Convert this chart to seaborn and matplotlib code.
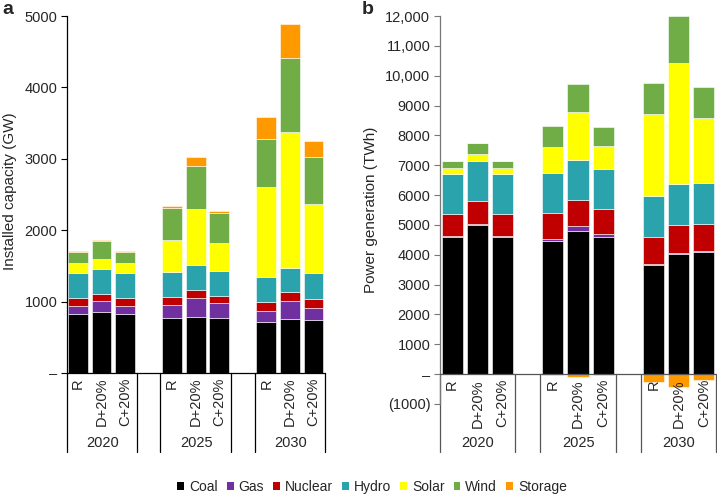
import numpy as np
import pandas as pd
import matplotlib.pyplot as plt
import seaborn as sns
from matplotlib.patches import Patch
from matplotlib.ticker import FuncFormatter, MultipleLocator

sns.set_style('white')
plt.rcParams['font.family'] = ['Liberation Sans', 'DejaVu Sans']

# ---- data ----
sources = ['Coal', 'Gas', 'Nuclear', 'Hydro', 'Solar', 'Wind', 'Storage']
colors = ['#000000', '#7030A0', '#C00000', '#2AA3AD', '#FFFF00', '#70AD47', '#FF9900']
years = ['2020', '2025', '2030']
scenarios = ['R', 'D+20%', 'C+20%']

# installed capacity (GW), one list per source, bars ordered 2020 R/D/C, 2025 R/D/C, 2030 R/D/C
cap_coal = [826, 854, 826, 770, 780, 770, 712, 756, 742]
cap_gas = [112, 154, 112, 182, 270, 210, 158, 252, 168]
cap_nuclear = [112, 98, 112, 112, 110, 100, 124, 126, 126]
cap_hydro = [350, 350, 350, 350, 352, 350, 350, 336, 364]
cap_solar = [140, 140, 140, 448, 785, 390, 1261, 1905, 967]
cap_wind = [155, 249, 155, 448, 603, 420, 672, 1037, 658]
cap_storage = [10, 17, 10, 30, 125, 25, 308, 476, 225]

# power generation (TWh)
gen_coal = [4590, 4990, 4590, 4460, 4800, 4600, 3660, 4020, 4090]
gen_gas = [40, 40, 40, 70, 170, 80, 20, 40, 30]
gen_nuclear = [730, 770, 730, 860, 850, 850, 920, 940, 920]
gen_hydro = [1340, 1330, 1340, 1350, 1350, 1340, 1360, 1360, 1370]
gen_solar = [200, 230, 200, 860, 1610, 770, 2740, 4060, 2180]
gen_wind = [230, 380, 230, 700, 930, 630, 1070, 1580, 1030]
gen_storage = [0, 0, 0, -20, -90, -30, -260, -430, -200]

cap = pd.DataFrame(dict(zip(sources, [cap_coal, cap_gas, cap_nuclear, cap_hydro,
                                      cap_solar, cap_wind, cap_storage])))
gen = pd.DataFrame(dict(zip(sources, [gen_coal, gen_gas, gen_nuclear, gen_hydro,
                                      gen_solar, gen_wind, gen_storage])))

positions = [0, 1, 2, 4, 5, 6, 8, 9, 10]
group_spans = [(-0.5, 2.5), (3.5, 6.5), (7.5, 10.5)]

W, H = 717, 495
fig = plt.figure(figsize=(W / 100, H / 100), dpi=100)


def add_axes(l, r, top, bottom):
    return fig.add_axes([l / W, 1 - bottom / H, (r - l) / W, (bottom - top) / H])


def stacked(ax, df):
    pos_bottom = np.zeros(len(df))
    for src, col in zip(sources, colors):
        vals = df[src].values
        bottoms = np.where(vals >= 0, pos_bottom, 0)
        ax.bar(positions, vals, bottom=bottoms, width=0.84, color=col,
               edgecolor='white', linewidth=0.4, zorder=2)
        pos_bottom = pos_bottom + np.clip(vals, 0, None)


def category_axis(ax, top_pix, bottom_pix, zero_pix, spine_col):
    span = bottom_pix - top_pix
    frac = lambda p: (bottom_pix - p) / span
    tr = ax.get_xaxis_transform()
    x0, x1 = ax.get_xlim()
    ax.plot([x0, x1], [frac(zero_pix)] * 2, transform=tr, color=spine_col,
            lw=0.9, clip_on=False, zorder=3)
    for (a, b), yr in zip(group_spans, years):
        a = max(a, x0)
        b = min(b, x1)
        for xv in (a, b):
            ax.plot([xv, xv], [frac(zero_pix), frac(452)], transform=tr,
                    color=spine_col, lw=0.9, clip_on=False)
        ax.text((a + b) / 2 + 0.02, frac(443), yr, transform=tr, ha='center',
                va='center', fontsize=10.5)
    for p, lab in zip(positions, scenarios * 3):
        ax.text(p, frac(zero_pix + 5), lab, transform=tr, rotation=90,
                ha='center', va='top', fontsize=10.5)


def fmt_a(v, p):
    v = int(round(v))
    return '–' if v == 0 else f'{v}'


def fmt_b(v, p):
    v = int(round(v))
    if v == 0:
        return '–'
    if v < 0:
        return f'({-v})'
    return f'{v:,}' if v >= 10000 else f'{v}'


# ---- panel a ----
ax_a = add_axes(67, 325, 16, 373)
stacked(ax_a, cap)
ax_a.set_xlim(-0.47, 10.49)
ax_a.set_ylim(0, 5000)
ax_a.yaxis.set_major_locator(MultipleLocator(1000))
ax_a.yaxis.set_major_formatter(FuncFormatter(fmt_a))
category_axis(ax_a, 16, 373, 373, 'black')

# ---- panel b ----
ax_b = add_axes(440, 716, 16, 404)
stacked(ax_b, gen)
ax_b.set_xlim(-0.484, 10.48)
ax_b.set_ylim(-1000, 12000)
ax_b.yaxis.set_major_locator(MultipleLocator(1000))
ax_b.yaxis.set_major_formatter(FuncFormatter(fmt_b))
category_axis(ax_b, 16, 404, 374, '#555555')

for ax, sc in ((ax_a, 'black'), (ax_b, '#777777')):
    ax.set_xticks([])
    for s in ('top', 'right', 'bottom'):
        ax.spines[s].set_visible(False)
    ax.spines['left'].set_color(sc)
    ax.spines['left'].set_linewidth(0.9)
    ax.tick_params(axis='y', direction='out', length=4, width=0.8,
                   color=sc, labelsize=10.5, pad=3, left=True)
    ax.grid(False)

fig.text(10 / W, 1 - 191 / H, 'Installed capacity (GW)', rotation=90,
         ha='center', va='center', fontsize=11)
fig.text(371 / W, 1 - 210 / H, 'Power generation (TWh)', rotation=90,
         ha='center', va='center', fontsize=11)
fig.text(2 / W, 1 - 10 / H, 'a', fontsize=14, fontweight='bold', va='center')
fig.text(362 / W, 1 - 10 / H, 'b', fontsize=14, fontweight='bold', va='center')

handles = [Patch(facecolor=c, edgecolor='none', label=s) for s, c in zip(sources, colors)]
fig.legend(handles=handles, loc='center', bbox_to_anchor=(372 / W, 1 - 487 / H),
           ncol=7, frameon=False, fontsize=10, handlelength=0.5, handleheight=0.5,
           handletextpad=0.35, columnspacing=0.65, borderpad=0)

fig.savefig('out.png', dpi=100)
